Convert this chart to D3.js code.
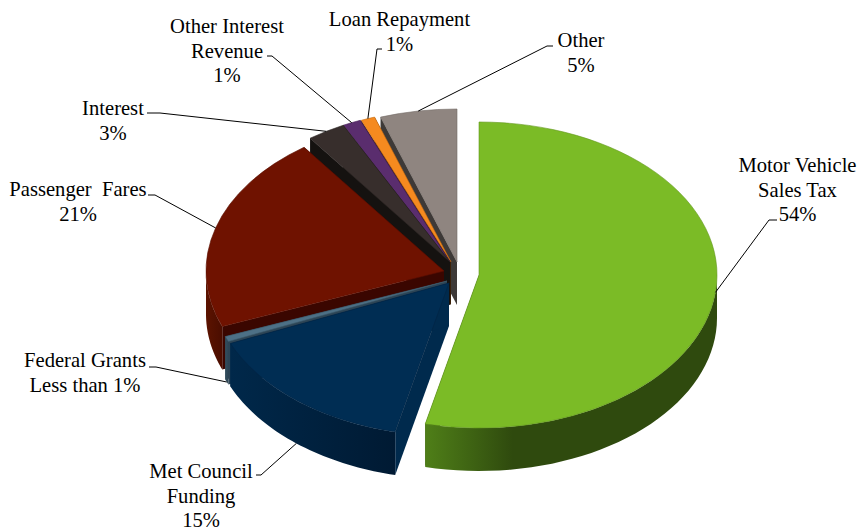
<!DOCTYPE html>
<html>
<head>
  <meta charset="utf-8">
  <title>Revenue Sources</title>
  <script src="https://d3js.org/d3.v7.min.js"></script>
  <style>
    html, body { margin: 0; padding: 0; background: #fff; }
    text { font-family: "Liberation Serif", serif; font-size: 20.6px; fill: #000; }
  </style>
</head>
<body>
<svg id="chart" width="858" height="531"></svg>
<script>
// Slice data, clockwise from twelve o'clock
const categories = ["Motor Vehicle Sales Tax", "Met Council Funding", "Federal Grants", "Passenger Fares",
  "Interest", "Other Interest Revenue", "Loan Repayment", "Other"];
const shares = [53.6, 14.9, 0.55, 20.9, 2.6, 1.25, 0.95, 5.2];
const labelLines = [
  ["Motor Vehicle", "Sales Tax", "54%"],
  ["Met Council", "Funding", "15%"],
  ["Federal Grants", "Less than 1%"],
  ["Passenger  Fares", "21%"],
  ["Interest", "3%"],
  ["Other Interest", "Revenue", "1%"],
  ["Loan Repayment", "1%"],
  ["Other", "5%"]
];

// Styles and layout
const topColors = ["#7bbb26", "#002d53", "#4d7086", "#6f1200", "#372e2c", "#5a2d6e", "#f58a1f", "#8f8580"];
const wallLight = ["#4f7f18", "#00284a", "#34505f", "#5c1300", "#1a1512", "#2c1636", "#7a4510", "#474240"];
const wallDark = ["#2f4a0e", "#001a33", "#2c4455", "#4a0d00", "#141210", "#24122c", "#66380c", "#3f3b39"];
const wallFade = [0.3, 1, 1, 1, 1, 1, 1, 1];
const edgeColors = ["#2f4a0e", "#002a4d", "#2c4455", "#3a0600", "#151210", "#201028", "#3a2008", "#3d3937"];
const sliceX = [479, 449, 447, 444, 450, 450, 451, 457];
const sliceY = [275, 283, 281, 271, 262, 262, 262, 262];
const labelX = [797.5, 201, 85, 78, 113, 227, 399.5, 581];
const labelY = [172, 478, 367, 196, 115, 33, 26, 47];
const leaderEnds = [[[769, 220], [777, 220]], [[261, 475], [256, 475]], [[156, 367], [149, 367]], [[155, 195], [148, 195]],
  [[160, 113], [147, 113]], [[272, 56], [267, 56]], [[377, 49], [382, 49]], [[547, 46], [553, 46]]];
const lineHeight = 24.6;
const rx = 238, ry = 153, depth = 43;

const svg = d3.select("#chart");
const defs = svg.append("defs");

const pie = d3.pie().value(d => d).sort(null);
const arcs = pie(shares);
const arc = d3.arc().innerRadius(0).outerRadius(rx);

// point on the slice rim, a is measured clockwise from the top
function rim(i, a, drop) {
  return [sliceX[i] + rx * Math.sin(a), sliceY[i] - ry * Math.cos(a) + (drop || 0)];
}

// painted back to front
const order = [7, 6, 5, 4, 3, 2, 1, 0];
const line = d3.line();

order.forEach(i => {
  const d = arcs[i];
  const g = svg.append("g");
  const a0 = d.startAngle, a1 = d.endAngle;
  const from = Math.max(a0, Math.PI / 2), to = Math.min(a1, Math.PI * 1.5);

  // the lit end of the round wall is its left end
  const grad = defs.append("linearGradient")
    .attr("id", "wall" + i)
    .attr("gradientUnits", "userSpaceOnUse")
    .attr("x1", d3.min([from, to], a => rim(i, a)[0]))
    .attr("x2", d3.max([from, to], a => rim(i, a)[0]))
    .attr("y1", 0).attr("y2", 0);
  grad.append("stop").attr("offset", 0).attr("stop-color", wallLight[i]);
  grad.append("stop").attr("offset", wallFade[i]).attr("stop-color", wallDark[i]);

  // straight walls on both cut edges
  [a0, a1].forEach(a => {
    const p = rim(i, a), c = [sliceX[i], sliceY[i]];
    g.append("path")
      .attr("d", line([c, p, [p[0], p[1] + depth], [c[0], c[1] + depth]]) + "Z")
      .attr("fill", edgeColors[i]);
  });

  // round wall, only the part that faces the viewer
  if (to > from) {
    const steps = d3.range(0, 41).map(k => from + (to - from) * k / 40);
    const upper = steps.map(a => rim(i, a));
    const lower = steps.slice().reverse().map(a => rim(i, a, depth));
    g.append("path")
      .attr("d", line(upper.concat(lower)) + "Z")
      .attr("fill", `url(#wall${i})`);
  }

  g.append("path")
    .attr("d", arc(d))
    .attr("transform", `translate(${sliceX[i]},${sliceY[i]}) scale(1,${ry / rx})`)
    .attr("fill", topColors[i])
    .attr("stroke", d3.color(topColors[i]).darker(0.6))
    .attr("stroke-width", 0.6)
    .attr("vector-effect", "non-scaling-stroke");
});

// leader lines and labels
arcs.forEach((d, i) => {
  const mid = (d.startAngle + d.endAngle) / 2;
  const front = mid > Math.PI && mid < Math.PI * 1.5;
  const start = rim(i, mid, front ? depth : 0);
  svg.append("path")
    .attr("d", line([start].concat(leaderEnds[i])))
    .attr("fill", "none")
    .attr("stroke", "#000")
    .attr("stroke-width", 1);

  const t = svg.append("text").attr("text-anchor", "middle").attr("xml:space", "preserve");
  labelLines[i].forEach((s, k) => {
    t.append("tspan")
      .attr("x", labelX[i])
      .attr("y", labelY[i] + k * lineHeight)
      .text(s);
  });
});
</script>
</body>
</html>
